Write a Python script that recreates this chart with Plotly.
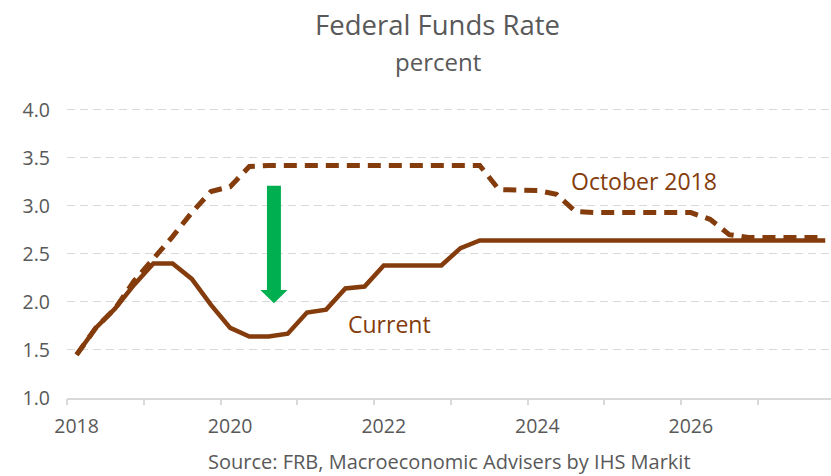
import plotly.graph_objects as go

# Quarterly periods, 2018Q1 .. 2027Q4
years = list(range(2018, 2028))
quarters = [f"{y}Q{q}" for y in years for q in (1, 2, 3, 4)]
x_pos = [int(p[:4]) + (int(p[-1]) - 1) / 4 for p in quarters]

# Federal funds rate, percent
current = [1.45, 1.73, 1.93, 2.18, 2.40, 2.40, 2.24, 1.97, 1.73, 1.64,
           1.64, 1.67, 1.89, 1.92, 2.14, 2.16, 2.38, 2.38, 2.38, 2.38,
           2.56, 2.64, 2.64, 2.64, 2.64, 2.64, 2.64, 2.64, 2.64, 2.64,
           2.64, 2.64, 2.64, 2.64, 2.64, 2.64, 2.64, 2.64, 2.64, 2.64]
october_2018 = [1.45, 1.73, 1.93, 2.22, 2.45, 2.68, 2.93, 3.15, 3.20, 3.41,
                3.42, 3.42, 3.42, 3.42, 3.42, 3.42, 3.42, 3.42, 3.42, 3.42,
                3.42, 3.42, 3.17, 3.17, 3.16, 3.12, 2.94, 2.93, 2.93, 2.93,
                2.93, 2.93, 2.93, 2.86, 2.70, 2.67, 2.67, 2.67, 2.67, 2.67]

label_years = [2018, 2020, 2022, 2024, 2026]
y_ticks = [1.0, 1.5, 2.0, 2.5, 3.0, 3.5, 4.0]

BROWN = "#843C0C"
GRAY_TEXT = "#595959"
GRID = "#D9D9D9"
GREEN = "#00B050"
FONT = "Open Sans"

x_lo, x_hi = 2017.875, 2027.825
y_lo, y_hi = 1.0, 4.05

fig = go.Figure()
fig.add_trace(go.Scatter(x=x_pos, y=current, mode="lines", name="Current",
                         line=dict(color=BROWN, width=4.5)))
fig.add_trace(go.Scatter(x=x_pos, y=october_2018, mode="lines", name="October 2018",
                         line=dict(color=BROWN, width=5, dash="13px,8px")))

# Downward arrow showing the revision between the two paths
arrow_x, arrow_top, arrow_neck, arrow_tip = 2020.57, 3.21, 2.125, 1.986
shaft_half, head_half = 0.091, 0.177
arrow_path = (f"M {arrow_x - shaft_half},{arrow_top} L {arrow_x + shaft_half},{arrow_top} "
              f"L {arrow_x + shaft_half},{arrow_neck} L {arrow_x + head_half},{arrow_neck} "
              f"L {arrow_x},{arrow_tip} L {arrow_x - head_half},{arrow_neck} "
              f"L {arrow_x - shaft_half},{arrow_neck} Z")
fig.add_shape(type="path", path=arrow_path, xref="x", yref="y",
              fillcolor=GREEN, line=dict(width=0), layer="above")

# Series labels
fig.add_annotation(x=2025.39, y=3.26, text="October 2018", showarrow=False,
                   font=dict(family=FONT, size=23, color=BROWN))
fig.add_annotation(x=2022.08, y=1.77, text="Current", showarrow=False,
                   font=dict(family=FONT, size=23, color=BROWN))

# Titles and source note
fig.add_annotation(xref="paper", yref="paper", x=0.4856, y=1.275, yanchor="middle",
                   xanchor="center", text="Federal Funds Rate", showarrow=False,
                   font=dict(family=FONT, size=27.5, color=GRAY_TEXT))
fig.add_annotation(xref="paper", yref="paper", x=0.4856, y=1.15, yanchor="middle",
                   xanchor="center", text="percent", showarrow=False,
                   font=dict(family=FONT, size=24, color=GRAY_TEXT))
fig.add_annotation(xref="paper", yref="paper", x=0.501, y=-0.218, yanchor="middle",
                   xanchor="center",
                   text="Source: FRB, Macroeconomic Advisers by IHS Markit",
                   showarrow=False, font=dict(family=FONT, size=20, color=GRAY_TEXT))

fig.update_layout(
    width=831, height=476,
    margin=dict(l=67, r=0, t=105, b=78),
    paper_bgcolor="white", plot_bgcolor="white",
    showlegend=False,
    xaxis=dict(range=[x_lo, x_hi], tickmode="array", tickvals=label_years,
               ticktext=[str(y) for y in label_years], ticks="",
               showgrid=False, zeroline=False, showline=True,
               linecolor=GRID, linewidth=1.5, ticklabelstandoff=10,
               tickfont=dict(family=FONT, size=19.5, color=GRAY_TEXT)),
    xaxis2=dict(range=[x_lo, x_hi], overlaying="x", anchor="y", side="bottom",
                tickmode="array", tickvals=[y - 0.125 for y in years],
                ticks="outside", ticklen=6, tickwidth=1.5, tickcolor=GRID,
                showticklabels=False, showgrid=False, zeroline=False, showline=False),
    yaxis=dict(range=[y_lo, y_hi], tickmode="array", tickvals=y_ticks,
               ticktext=[f"{v:.1f}" for v in y_ticks], ticks="",
               showgrid=True, gridcolor=GRID, gridwidth=1.2, griddash="8px,5px",
               zeroline=False, showline=False, ticklabelstandoff=16,
               tickfont=dict(family=FONT, size=19.5, color=GRAY_TEXT)),
)

# invisible trace so the tick-mark axis is drawn
fig.add_trace(go.Scatter(x=[x_lo], y=[y_lo], xaxis="x2", mode="markers",
                         marker=dict(opacity=0), hoverinfo="skip"))

fig.write_html("out.html")
